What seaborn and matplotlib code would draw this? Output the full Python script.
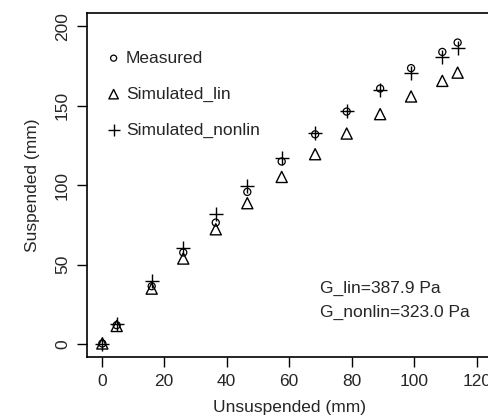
import matplotlib
matplotlib.use("Agg")
import matplotlib.pyplot as plt
import seaborn as sns
import pandas as pd

unsuspended = [0.2, 4.8, 16.0, 26.1, 36.5, 46.6, 57.6, 68.3, 78.4, 89.1, 99.0, 109.0, 113.9]
measured = [0.5, 12.0, 36.5, 57.7, 76.5, 95.8, 114.9, 132.0, 146.3, 160.8, 173.6, 183.8, 189.7]
simulated_lin = [0.5, 11.5, 35.0, 53.9, 72.3, 88.7, 105.2, 119.5, 132.5, 144.7, 155.8, 165.6, 170.8]
simulated_nonlin = [0.0, 12.8, 39.8, 60.8, 81.8, 99.6, 117.4, 133.1, 146.7, 159.9, 170.4, 180.9, 186.0]
xticks = [0, 20, 40, 60, 80, 100, 120]
yticks = [0, 50, 100, 150, 200]
annot = ["G_lin=387.9 Pa", "G_nonlin=323.0 Pa"]

df = pd.DataFrame({"x": unsuspended, "Measured": measured,
                   "Simulated_lin": simulated_lin, "Simulated_nonlin": simulated_nonlin})

sns.set_theme(style="white")
plt.rcParams["font.family"] = ["Liberation Sans", "DejaVu Sans"]

fig = plt.figure(figsize=(4.89, 4.2), dpi=100)
ax = fig.add_axes([0.1773, 0.15, 0.8282, 0.818])

sns.scatterplot(data=df, x="x", y="Measured", ax=ax, marker="o", s=26,
                facecolors="none", edgecolor="black", linewidth=0.9, label="Measured")
sns.scatterplot(data=df, x="x", y="Simulated_lin", ax=ax, marker="^", s=64,
                facecolors="none", edgecolor="black", linewidth=1.0, label="Simulated_lin")
sns.scatterplot(data=df, x="x", y="Simulated_nonlin", ax=ax, marker="+", s=110,
                color="black", linewidth=1.0, label="Simulated_nonlin")

ax.set_xlim(-4.8, 124.8)
ax.set_ylim(-8, 208)
ax.set_xticks(xticks)
ax.set_yticks(yticks)
ax.set_xticklabels([str(v) for v in xticks], fontsize=12.5)
ax.set_yticklabels([str(v) for v in yticks], fontsize=12.5, rotation=90, va="center")
ax.tick_params(axis="both", which="both", direction="out", length=7, width=1,
               color="black", pad=5, bottom=True, left=True)
for s in ax.spines.values():
    s.set_color("black")
    s.set_linewidth(1.2)
ax.set_xlabel("Unsuspended (mm)", fontsize=12.5, labelpad=8)
ax.set_ylabel("Suspended (mm)", fontsize=12.5, labelpad=11)

leg = ax.legend(loc="upper left", frameon=False, fontsize=12.5, handletextpad=0.2,
                labelspacing=1.2, borderaxespad=0.65, handlelength=1.0,
                markerscale=0.85, bbox_to_anchor=(0.0, 0.945))

ax.text(69.9, 35.2, annot[0], fontsize=12.5, ha="left", va="center")
ax.text(69.9, 20.1, annot[1], fontsize=12.5, ha="left", va="center")

fig.savefig("out.png", dpi=100)
